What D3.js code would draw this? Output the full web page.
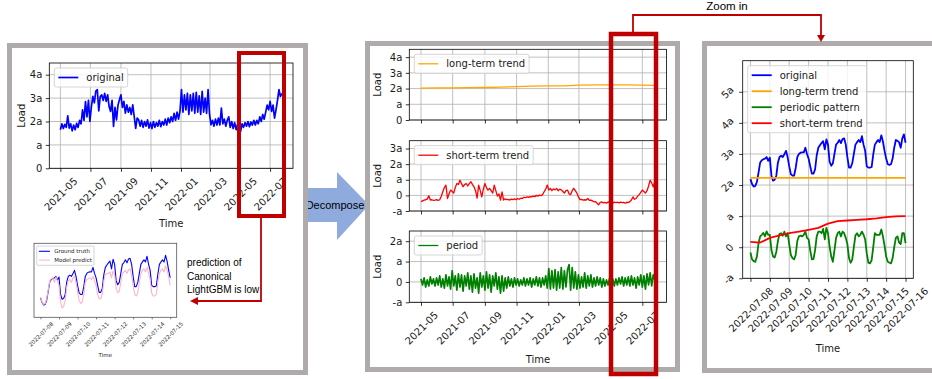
<!DOCTYPE html>
<html>
<head>
<meta charset="utf-8">
<script src="https://cdn.jsdelivr.net/npm/d3@7"></script>
<style>
body { margin: 0; background: #fff; }
svg { display: block; }
</style>
</head>
<body>
<svg id="fig" width="932" height="379"></svg>
<script>
// ---- data: full period, one value every 3 days from 2021-05-01 ----
var seriesStart = "2021-05-01";
var seriesStepDays = 3;
var originalLoad = [
    1.65, 1.9, 1.7, 1.88, 1.75, 2.24, 1.72, 1.9, 1.6, 1.85, 1.65, 1.92, 1.75, 2.05,
    1.9, 2.5, 2.05, 2.85, 2.2, 2.9, 2.0, 2.64, 3.07, 2.8, 3.3, 3.36, 2.45, 3.07, 3.14, 2.9,
    3.2, 2.86, 3.14, 2.64, 2.43, 2.9, 1.79, 2.6, 2.07, 2.7, 2.93, 3.14, 2.6, 2.86, 2.36, 2.71,
    2.4, 2.6, 2.3, 2.71, 2.21, 1.71, 2.15, 2.07,
    1.8, 2.05, 1.75, 2.0, 1.8, 2.07, 1.72,
    1.95, 1.7, 2.0, 1.75, 1.95, 1.8, 2.05, 1.78, 2.0, 1.85, 2.1, 1.85,
    2.15, 1.95, 2.2, 2.0, 2.35, 2.05, 2.4, 2.1, 2.45,
    3.36, 2.4, 3.14, 2.5, 3.2, 2.3, 3.14, 2.45, 3.2, 2.35, 3.25, 2.4, 3.1, 2.3, 3.29, 2.4, 3.0, 2.35, 3.36,
    2.3, 1.86, 2.05, 1.8, 2.1, 1.85, 2.15, 1.85, 2.57, 1.9, 2.1, 1.8, 2.05, 2.2, 1.75, 2.0, 1.7,
    1.95, 1.65, 1.9, 1.7, 1.57, 1.9, 1.75, 1.95, 1.8, 2.0, 1.78, 1.98, 1.85, 2.05, 1.85, 2.05,
    1.9, 2.2, 2.0, 2.3, 2.1, 2.4, 2.7, 2.5, 2.86, 2.43, 2.7, 2.14, 2.5, 2.9, 3.36, 3.07, 3.2
];
var shortTrend = [
    -0.4, -0.35, -0.3, -0.28, -0.24, -0.02, -0.3, -0.28, -0.32, -0.3, -0.27, -0.33, -0.28, -0.05,
    0.23, 0.5, 0.66, -0.2, 0.1, 0.34, 0.25, 0.15, 0.5, 0.76, 0.7, 0.97, 0.75, 0.55, 0.7, 0.76,
    0.6, 0.75, 0.87, 0.7, 0.55, 0.3, -0.18, 0.66, 0.3, -0.1, 0.4, 0.76, 0.5, 0.34, 0.45, 0.3,
    0.15, 0.66, 0.3, -0.05, 0.1, -0.3, 0.23, -0.3, -0.22, -0.27, -0.25, -0.3, -0.24, -0.27,
    -0.22, -0.28, -0.2, -0.25, -0.18, -0.2, -0.12, -0.15, -0.1, -0.13, -0.08, -0.1, -0.05, -0.08,
    0.0, -0.05, 0.02, -0.02, 0.05, 0.23, 0.4, 0.66, 0.34, 0.45, 0.3, 0.42, 0.35, 0.45, 0.3, 0.4,
    0.35, 0.25, 0.15, 0.3, 0.34, 0.1, 0.05, 0.3, 0.45, 0.3, 0.15, -0.1, -0.27, -0.25, -0.3, -0.28,
    -0.3, -0.2, -0.32, -0.3, -0.35, -0.41, -0.4, -0.5, -0.6, -0.45, -0.42, -0.48, -0.45, -0.5,
    -0.42, -0.47, -0.45, -0.5, -0.43, -0.46, -0.44, -0.48, -0.43, -0.47, -0.45, -0.5, -0.44, -0.46,
    -0.4, -0.3, -0.1, -0.25, -0.2, -0.05, 0.05, 0.2, 0.34, 0.25, 0.15, 0.3, 0.6, 0.97, 0.8, 0.55, 0.87
];
var periodPart = [
    0.15, -0.15, 0.2, -0.25, 0.1, -0.2, 0.25, -0.1, 0.15, -0.2, 0.2, -0.15, 0.3, -0.25, 0.15, -0.3,
    0.35, -0.2, 0.25, -0.35, 0.55, -0.2, 0.3, -0.4, 0.4, -0.25, 0.35, -0.45, 0.3, -0.2, 0.45, -0.35,
    0.3, -0.5, 0.4, -0.3, 0.2, -0.55, 0.45, -0.25, 0.3, -0.4, 0.5, -0.3, 0.35, -0.5, 0.3, -0.2,
    0.45, -0.35, 0.25, -0.55, 0.3, -0.45, 0.2, -0.3, 0.25, -0.2, 0.15, -0.25, 0.2, -0.15, 0.15, -0.2,
    0.1, -0.15, 0.2, -0.2, 0.15, -0.15, 0.2, -0.25, 0.15, -0.15, 0.25, -0.2, 0.2, -0.25, 0.2, -0.15,
    0.3, -0.3, 0.65, -0.35, 0.55, -0.3, 0.6, -0.4, 0.5, -0.3, 0.7, -0.35, 0.55, -0.25, 0.6, 0.85,
    -0.4, 0.7, -0.3, 0.5, -0.35, 0.35, -0.3, 0.25, -0.25, 0.45, -0.3, 0.3, -0.2, 0.35, -0.25, 0.2,
    -0.2, 0.25, -0.15, 0.2, -0.25, 0.15, -0.2, 0.1, -0.15, 0.2, -0.1, 0.15, -0.2, 0.15, -0.15, 0.2,
    -0.1, 0.25, -0.2, 0.2, -0.15, 0.25, -0.2, 0.3, -0.15, 0.2, -0.3, 0.25, -0.15, 0.35, -0.25, 0.3,
    -0.35, 0.4, -0.15, 0.45, -0.2, 0.35, 0.1
];
var longDates = ["2021-05-01", "2021-06-01", "2021-07-01", "2021-08-01", "2021-09-01", "2021-10-01",
    "2021-11-01", "2021-12-01", "2022-01-01", "2022-02-01", "2022-03-01", "2022-04-01",
    "2022-05-01", "2022-06-01", "2022-07-01", "2022-07-25"];
var longTrend = [2.03, 2.04, 2.05, 2.06, 2.07, 2.09, 2.12, 2.16, 2.17, 2.17, 2.22, 2.24, 2.24, 2.23, 2.22, 2.21];
var monthTicks = ["2021-05-01", "2021-07-01", "2021-09-01", "2021-11-01", "2022-01-01",
    "2022-03-01", "2022-05-01", "2022-07-01"];

// ---- data: zoomed week, one value every 2 hours from 2022-07-08 ----
var zoomStart = "2022-07-08";
var zoomStepHours = 2;
var zoomOriginal = [
    2.19, 2.03, 1.95, 1.97, 2.1, 2.4, 2.72, 2.8, 2.83, 2.85, 2.9, 2.78,
    2.88, 2.3, 2.14, 2.17, 2.3, 2.72, 2.9, 2.94, 2.9, 2.99, 3.1, 2.9,
    2.6, 2.35, 2.3, 2.3, 2.55, 2.9, 3.0, 3.04, 3.05, 3.05, 3.2, 3.0,
    2.85, 2.6, 2.37, 2.37, 2.5, 2.95, 3.2, 3.28, 3.35, 3.41, 3.15, 3.47,
    3.3, 2.75, 2.62, 2.7, 3.0, 3.3, 3.36, 3.45, 3.35, 3.48, 3.5, 3.3,
    2.9, 2.56, 2.56, 2.7, 3.0, 3.3, 3.38, 3.45, 3.38, 3.57, 3.3, 3.1,
    2.6, 2.56, 2.56, 2.58, 2.98, 3.3, 3.38, 3.45, 3.38, 3.6, 3.4, 3.1,
    2.85, 2.67, 2.65, 2.67, 2.85, 3.2, 3.45, 3.42, 3.38, 3.2, 3.5, 3.63,
    3.36
];
var zoomPeriodic = [
    -0.17, -0.39, -0.45, -0.47, -0.3, 0.13, 0.35, 0.4, 0.46, 0.35, 0.51, 0.4,
    0.4, -0.1, -0.3, -0.33, -0.15, 0.2, 0.43, 0.45, 0.37, 0.5, 0.35, 0.45,
    0.1, -0.25, -0.35, -0.39, -0.25, 0.2, 0.35, 0.37, 0.35, 0.4, 0.5, 0.3,
    0.25, -0.1, -0.39, -0.38, -0.1, 0.35, 0.5, 0.5, 0.45, 0.59, 0.25, 0.62,
    0.45, 0.02, -0.3, -0.47, -0.1, 0.3, 0.45, 0.5, 0.35, 0.5, 0.45, 0.3,
    0.1, -0.35, -0.5, -0.4, 0.0, 0.38, 0.45, 0.35, 0.4, 0.5, 0.4, 0.25,
    -0.2, -0.5, -0.52, -0.42, 0.0, 0.45, 0.4, 0.4, 0.4, 0.57, 0.35, 0.05,
    -0.3, -0.47, -0.5, -0.52, -0.35, 0.0, 0.3, 0.35, 0.15, 0.1, 0.45, 0.45,
    0.13
];
var zoomShortStepHours = 12;
var zoomShort = [0.17, 0.15, 0.3, 0.38, 0.45, 0.5, 0.56, 0.62, 0.76, 0.84, 0.86, 0.88, 0.9, 0.93, 0.97, 0.99, 1.0];
var zoomLongStepHours = 24;
var zoomLong = [2.23, 2.23, 2.23, 2.23, 2.23, 2.23, 2.23, 2.23, 2.23];
var zoomTicks = ["2022-07-08", "2022-07-09", "2022-07-10", "2022-07-11", "2022-07-12",
    "2022-07-13", "2022-07-14", "2022-07-15", "2022-07-16"];

// ---- data: LightGBM inset (7 days) ----
var insetTicks = zoomTicks.slice(0, 8);
var insetPredict = [
    2.2, 2.05, 1.97, 2.0, 2.15, 2.45, 2.75, 2.82, 2.85, 2.7, 2.88, 2.75,
    2.6, 2.05, 1.85, 1.9, 2.1, 2.55, 2.75, 2.8, 2.7, 2.85, 2.9, 2.7,
    2.4, 2.1, 2.0, 2.05, 2.3, 2.7, 2.8, 2.82, 2.85, 2.8, 2.9, 2.75,
    2.6, 2.3, 2.15, 2.15, 2.3, 2.75, 2.95, 3.0, 3.0, 3.05, 2.85, 3.08,
    2.95, 2.5, 2.35, 2.4, 2.7, 3.0, 3.05, 3.1, 3.0, 3.12, 3.15, 2.95,
    2.6, 2.3, 2.25, 2.35, 2.7, 3.0, 3.1, 3.15, 3.05, 3.2, 3.0, 2.8,
    2.35, 2.25, 2.25, 2.3, 2.7, 3.0, 3.1, 3.15, 3.05, 3.25, 3.1, 2.9,
    2.6
];
var insetTruth = zoomOriginal.slice(0, insetPredict.length);

var HOUR = 3600000, DAY = 24 * HOUR;
var parse = d3.timeParse("%Y-%m-%d");
var svg = d3.select("#fig");
var FONT = "DejaVu Sans";
var INK = "#1a1a1a";
var clipCount = 0;

function stepSeries(start, stepMs, values) {
    var t0 = parse(start).getTime();
    return values.map(function (v, i) {
        return {t: new Date(t0 + i * stepMs), v: v};
    });
}

function datedSeries(dates, values) {
    return values.map(function (v, i) {
        return {t: parse(dates[i]), v: v};
    });
}

function fmtA(v) {
    if (v === 0) return "0";
    if (v === 1) return "a";
    if (v === -1) return "-a";
    return v + "a";
}

// domain with matplotlib-like 5% margin
function padDomain(a, b) {
    var m = (b - a) * 0.05;
    return [new Date(a.getTime() - m), new Date(b.getTime() + m)];
}

function legend(g, x0, y0, items, fs, lw) {
    var k = fs / 10;
    var pad = 4 * k, rowH = 11 * k, gap = 5 * k;
    var grp = g.append("g");
    var box = grp.append("rect");
    var maxL = 0;
    items.forEach(function (it, i) {
        var cy = y0 + pad + rowH / 2 + i * (rowH + gap);
        grp.append("line")
            .attr("x1", x0 + pad).attr("x2", x0 + pad + 20 * k)
            .attr("y1", cy).attr("y2", cy)
            .attr("stroke", it.color).attr("stroke-width", lw);
        var t = grp.append("text")
            .attr("x", x0 + pad + 28 * k).attr("y", cy)
            .attr("dominant-baseline", "central")
            .attr("font-family", FONT).attr("font-size", fs).attr("fill", INK)
            .text(it.label);
        maxL = Math.max(maxL, t.node().getComputedTextLength());
    });
    box.attr("x", x0).attr("y", y0)
        .attr("width", pad + 28 * k + maxL + pad)
        .attr("height", 2 * pad + items.length * rowH + (items.length - 1) * gap)
        .attr("rx", 2 * k)
        .attr("fill", "white").attr("fill-opacity", 0.8)
        .attr("stroke", "#cccccc").attr("stroke-width", 0.8);
}

// one matplotlib-style axes
function makePanel(c) {
    var fs = c.fontSize || 10;
    var tick = c.tick || 3.5, pad = c.pad || 3.5;
    var spine = c.spine || "#000";
    var g = svg.append("g");
    var x = d3.scaleTime().domain(c.xDomain).range([c.left, c.right]);
    var y = d3.scaleLinear().domain(c.yDomain).range([c.bottom, c.top]);
    var xt = c.xTicks.map(parse);

    if (c.grid !== false) {
        g.append("g").selectAll("line").data(xt).join("line")
            .attr("x1", function (d) { return x(d) }).attr("x2", function (d) { return x(d) })
            .attr("y1", c.top).attr("y2", c.bottom)
            .attr("stroke", "#b0b0b0").attr("stroke-width", 0.8);
        g.append("g").selectAll("line").data(c.yTicks).join("line")
            .attr("y1", function (d) { return y(d) }).attr("y2", function (d) { return y(d) })
            .attr("x1", c.left).attr("x2", c.right)
            .attr("stroke", "#b0b0b0").attr("stroke-width", 0.8);
    }

    var clipId = "clip" + (clipCount++);
    svg.append("clipPath").attr("id", clipId).append("rect")
        .attr("x", c.left).attr("y", c.top)
        .attr("width", c.right - c.left).attr("height", c.bottom - c.top);
    var lines = g.append("g").attr("clip-path", "url(#" + clipId + ")");
    var line = d3.line()
        .x(function (d) { return x(d.t) })
        .y(function (d) { return y(d.v) });
    c.series.forEach(function (s) {
        lines.append("path").datum(s.data)
            .attr("fill", "none")
            .attr("stroke", s.color)
            .attr("stroke-width", s.width || c.lineWidth)
            .attr("stroke-linejoin", "round")
            .attr("d", line);
    });

    g.append("rect")
        .attr("x", c.left).attr("y", c.top)
        .attr("width", c.right - c.left).attr("height", c.bottom - c.top)
        .attr("fill", "none").attr("stroke", spine).attr("stroke-width", 0.8);

    // x axis
    var xa = g.append("g").attr("transform", "translate(0," + c.bottom + ")")
        .call(d3.axisBottom(x).tickValues(xt).tickSize(tick).tickPadding(pad)
            .tickFormat(c.xLabels ? d3.timeFormat(c.xFormat) : ""));
    xa.select(".domain").remove();
    xa.attr("color", spine).attr("font-family", FONT).attr("font-size", fs);
    xa.selectAll("line").attr("stroke", spine).attr("stroke-width", 0.8);
    if (c.xLabels) {
        xa.selectAll("text").each(function () {
            var L = this.getComputedTextLength();
            var H = (L + fs * 1.1) * Math.SQRT1_2;
            d3.select(this)
                .attr("y", null).attr("dy", null)
                .attr("fill", INK)
                .attr("text-anchor", "middle")
                .attr("dominant-baseline", "central")
                .attr("transform", "translate(0," + (tick + pad + H / 2) + ") rotate(-45)");
        });
    }

    // y axis
    if (c.yTicks.length && c.yLabels !== false) {
        var ya = g.append("g").attr("transform", "translate(" + c.left + ",0)")
            .call(d3.axisLeft(y).tickValues(c.yTicks).tickSize(tick).tickPadding(pad).tickFormat(fmtA));
        ya.select(".domain").remove();
        ya.attr("color", spine).attr("font-family", FONT).attr("font-size", fs);
        ya.selectAll("line").attr("stroke", spine).attr("stroke-width", 0.8);
        ya.selectAll("text").attr("fill", INK);
        if (c.rotateY) {
            ya.selectAll("text").each(function () {
                var L = this.getComputedTextLength();
                var W = (L + fs * 1.1) * Math.SQRT1_2;
                d3.select(this)
                    .attr("x", null).attr("dy", null)
                    .attr("text-anchor", "middle")
                    .attr("dominant-baseline", "central")
                    .attr("transform", "translate(" + (-(tick + pad) - W / 2) + ",0) rotate(-45)");
            });
        }
    }

    if (c.xlabel) {
        g.append("text")
            .attr("x", (c.left + c.right) / 2).attr("y", c.xlabelY)
            .attr("text-anchor", "middle").attr("dominant-baseline", "central")
            .attr("font-family", FONT).attr("font-size", fs).attr("fill", INK)
            .text(c.xlabel);
    }
    if (c.ylabel) {
        g.append("text")
            .attr("transform", "translate(" + c.ylabelX + "," + ((c.top + c.bottom) / 2) + ") rotate(-90)")
            .attr("text-anchor", "middle").attr("dominant-baseline", "central")
            .attr("font-family", FONT).attr("font-size", fs).attr("fill", INK)
            .text(c.ylabel);
    }
    if (c.legend) {
        legend(g, c.left + 5 * fs / 10, c.top + 5 * fs / 10, c.legend, fs, c.lineWidth);
    }
    return g;
}

// ---- annotation backdrop: decompose arrow and panel frames ----
svg.append("rect").attr("width", 932).attr("height", 379).attr("fill", "#fff");

svg.append("polygon")
    .attr("points", "303,188 337,188 337,172 369,205 337,240 337,222 303,222")
    .attr("fill", "#8faadc");
svg.append("text")
    .attr("x", 335).attr("y", 205)
    .attr("text-anchor", "middle").attr("dominant-baseline", "central")
    .attr("font-family", "Liberation Sans").attr("font-size", 11).attr("fill", "#000")
    .text("Decompose");

var frames = [
    {x: 9.5, y: 45.5, w: 296, h: 327},
    {x: 367.5, y: 43.5, w: 310, h: 326},
    {x: 704.5, y: 43.5, w: 240, h: 327}
];
svg.selectAll("rect.frame").data(frames).join("rect")
    .classed("frame", true)
    .attr("x", function (d) { return d.x }).attr("y", function (d) { return d.y })
    .attr("width", function (d) { return d.w }).attr("height", function (d) { return d.h })
    .attr("fill", "none").attr("stroke", "#afabab").attr("stroke-width", 5);

// ---- build series ----
var t0 = parse(seriesStart);
var tEnd = new Date(t0.getTime() + (originalLoad.length - 1) * seriesStepDays * DAY);
var longDomain = padDomain(t0, tEnd);
var zoomT0 = parse(zoomStart);
var zoomDomain = padDomain(zoomT0, new Date(zoomT0.getTime() + (zoomOriginal.length - 1) * zoomStepHours * HOUR));
var insetDomain = padDomain(zoomT0, new Date(zoomT0.getTime() + (insetPredict.length - 1) * zoomStepHours * HOUR));

var origData = stepSeries(seriesStart, seriesStepDays * DAY, originalLoad);
var shortData = stepSeries(seriesStart, seriesStepDays * DAY, shortTrend);
var periodData = stepSeries(seriesStart, seriesStepDays * DAY, periodPart);
var longData = datedSeries(longDates, longTrend);

// left: original load
makePanel({
    left: 49.3, right: 293, top: 63, bottom: 168.3,
    xDomain: longDomain, yDomain: [0, 4.5],
    xTicks: monthTicks, xFormat: "%Y-%m", xLabels: true,
    yTicks: [0, 1, 2, 3, 4],
    lineWidth: 1.7,
    series: [{data: origData, color: "#0000ff"}],
    legend: [{label: "original", color: "#0000ff"}],
    xlabel: "Time", xlabelY: 223,
    ylabel: "Load", ylabelX: 21
});

// left bottom: LightGBM inset
makePanel({
    left: 34, right: 176.7, top: 243.3, bottom: 317.3,
    xDomain: insetDomain, yDomain: [1.54, 4.0],
    xTicks: insetTicks, xFormat: "%Y-%m-%d", xLabels: true,
    yTicks: [], grid: false,
    fontSize: 5.5, tick: 2, pad: 1.5, spine: "#555",
    lineWidth: 1.1,
    series: [
        {data: stepSeries(zoomStart, zoomStepHours * HOUR, insetTruth), color: "#0000ff"},
        {data: stepSeries(zoomStart, zoomStepHours * HOUR, insetPredict), color: "#ffb6c1"}
    ],
    legend: [{label: "Ground truth", color: "#0000ff"}, {label: "Model predict", color: "#ffb6c1"}],
    xlabel: "Time", xlabelY: 355
});

// middle: decomposition
makePanel({
    left: 409.3, right: 666.5, top: 49.3, bottom: 120,
    xDomain: longDomain, yDomain: [0, 4.5],
    xTicks: monthTicks, xFormat: "%Y-%m", xLabels: false,
    yTicks: [0, 1, 2, 3, 4],
    lineWidth: 1.3,
    series: [{data: longData, color: "orange"}],
    legend: [{label: "long-term trend", color: "orange"}],
    ylabel: "Load", ylabelX: 377.5
});
makePanel({
    left: 409.3, right: 666.5, top: 140.7, bottom: 211,
    xDomain: longDomain, yDomain: [-1, 3.5],
    xTicks: monthTicks, xFormat: "%Y-%m", xLabels: false,
    yTicks: [-1, 0, 1, 2, 3],
    lineWidth: 1.3,
    series: [{data: shortData, color: "#ff0000"}],
    legend: [{label: "short-term trend", color: "#ff0000"}],
    ylabel: "Load", ylabelX: 377.5
});
makePanel({
    left: 409.3, right: 666.5, top: 231, bottom: 302.3,
    xDomain: longDomain, yDomain: [-1, 2.5],
    xTicks: monthTicks, xFormat: "%Y-%m", xLabels: true,
    yTicks: [-1, 0, 1, 2],
    lineWidth: 1.3,
    series: [{data: periodData, color: "#008000", width: 1.7}],
    legend: [{label: "period", color: "#008000"}],
    xlabel: "Time", xlabelY: 359,
    ylabel: "Load", ylabelX: 377.5
});

// right: zoom in
makePanel({
    left: 742.7, right: 913.3, top: 60.7, bottom: 278.3,
    xDomain: zoomDomain, yDomain: [-1, 6],
    xTicks: zoomTicks, xFormat: "%Y-%m-%d", xLabels: true,
    yTicks: [-1, 0, 1, 2, 3, 4, 5], rotateY: true,
    lineWidth: 1.8,
    series: [
        {data: stepSeries(zoomStart, zoomStepHours * HOUR, zoomOriginal), color: "#0000ff"},
        {data: stepSeries(zoomStart, zoomLongStepHours * HOUR, zoomLong), color: "orange"},
        {data: stepSeries(zoomStart, zoomStepHours * HOUR, zoomPeriodic), color: "#008000"},
        {data: stepSeries(zoomStart, zoomShortStepHours * HOUR, zoomShort), color: "#ff0000"}
    ],
    legend: [
        {label: "original", color: "#0000ff"},
        {label: "long-term trend", color: "orange"},
        {label: "periodic pattern", color: "#008000"},
        {label: "short-term trend", color: "#ff0000"}
    ],
    xlabel: "Time", xlabelY: 348
});

// ---- red highlight boxes and connectors ----
var RED = "#c00000";
svg.append("rect").attr("x", 239).attr("y", 53).attr("width", 45).attr("height", 163)
    .attr("fill", "none").attr("stroke", RED).attr("stroke-width", 4);
svg.append("rect").attr("x", 611).attr("y", 34).attr("width", 45).attr("height", 340)
    .attr("fill", "none").attr("stroke", RED).attr("stroke-width", 4.5);

svg.append("path").attr("d", "M261,218V301H197")
    .attr("fill", "none").attr("stroke", RED).attr("stroke-width", 1.8);
svg.append("polygon").attr("points", "190,301 198,297 198,305").attr("fill", RED);

svg.append("path").attr("d", "M633,32V15H821V36")
    .attr("fill", "none").attr("stroke", RED).attr("stroke-width", 1.8);
svg.append("polygon").attr("points", "821,42 817,35 825,35").attr("fill", RED);

svg.append("text")
    .attr("x", 727).attr("y", 10)
    .attr("text-anchor", "middle")
    .attr("font-family", "Liberation Sans").attr("font-size", 11.5).attr("fill", "#000")
    .text("Zoom in");

svg.append("g").selectAll("text")
    .data(["prediction of", "Canonical", "LightGBM is low"])
    .join("text")
    .attr("x", 187)
    .attr("y", function (d, i) { return 266 + i * 13.5 })
    .attr("font-family", "Liberation Sans").attr("font-size", 10).attr("fill", "#000")
    .text(function (d) { return d });
</script>
</body>
</html>
